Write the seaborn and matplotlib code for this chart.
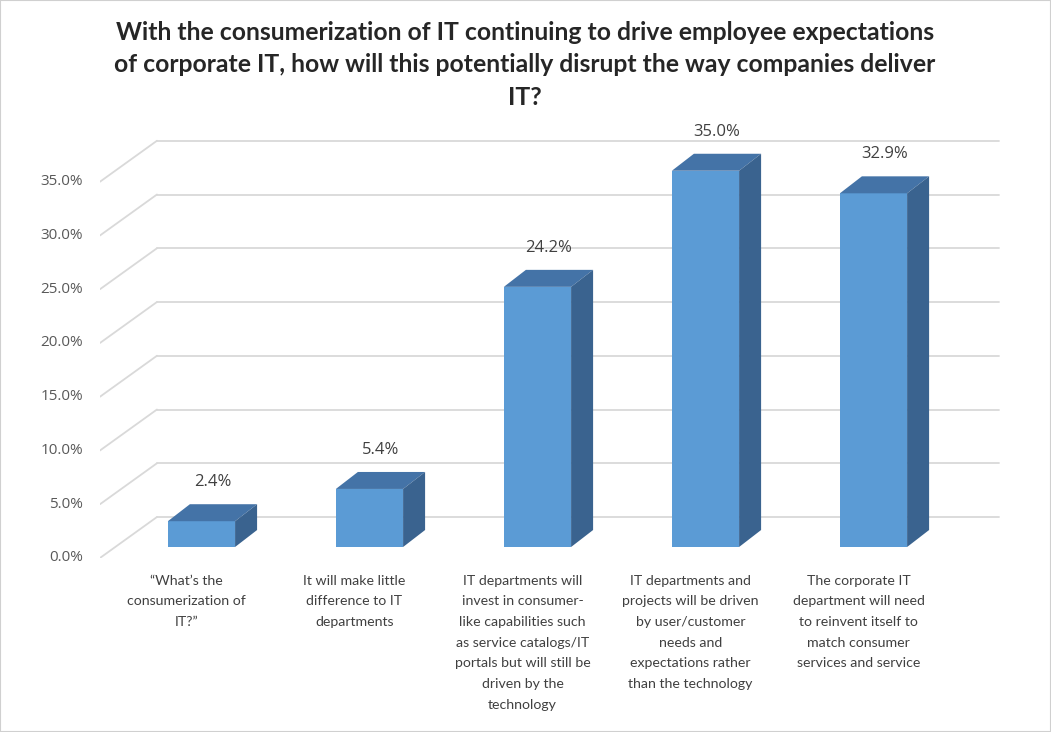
import matplotlib
matplotlib.use('Agg')
import matplotlib.pyplot as plt
from matplotlib.patches import Polygon, Rectangle
import seaborn as sns

# --- DATA ---
TITLE = ("With the consumerization of IT continuing to drive employee expectations\n"
         "of corporate IT, how will this potentially disrupt the way companies deliver\n"
         "IT?")
categories = [
    "\u201cWhat\u2019s the\nconsumerization of\nIT?\u201d",
    "It will make little\ndifference to IT\ndepartments",
    "IT departments will\ninvest in consumer-\nlike capabilities such\nas service catalogs/IT\n"
    "portals but will still be\ndriven by the\ntechnology",
    "IT departments and\nprojects will be driven\nby user/customer\nneeds and\n"
    "expectations rather\nthan the technology",
    "The corporate IT\ndepartment will need\nto reinvent itself to\nmatch consumer\nservices and service",
]
values = [2.4, 5.4, 24.2, 35.0, 32.9]
y_ticks = [0, 5, 10, 15, 20, 25, 30, 35]

# --- STYLE / FAKE 3D GEOMETRY ---
FRONT = '#5b9bd5'
TOP = '#4473a7'
SIDE = '#3a638f'
GRID = '#d9d9d9'
BAR_DX, BAR_DY = 0.131, 1.58        # bar depth
FRONT_DX, FRONT_DY = -0.089, -1.02  # front plane vs bar base
BACK_DX, BACK_DY = 0.25, 2.79       # back wall vs bar base
X_LEFT, X_RIGHT = -0.604, 4.753
Y_LOW, Y_HIGH = -1.023, 38.79
GRID_END = 4.747

sns.set_theme(style='white')
plt.rcParams['font.family'] = ['Lato', 'DejaVu Sans']

fig = plt.figure(figsize=(10.51, 7.32), dpi=100)
ax = fig.add_axes([100 / 1051, (732 - 558) / 732, 900 / 1051, (558 - 130) / 732])

sns.barplot(x=categories, y=values, color=FRONT, saturation=1, width=0.4,
            ax=ax, zorder=3, linewidth=0)
ax.set_xlim(X_LEFT, X_RIGHT)
ax.set_ylim(Y_LOW, Y_HIGH)
ax.axis('off')

# back wall gridlines + floor diagonals
back_left = X_LEFT - FRONT_DX + BACK_DX
for t in y_ticks:
    ax.plot([X_LEFT, back_left], [t + FRONT_DY, t + BACK_DY], color=GRID, lw=1.3, zorder=1)
    ax.plot([back_left, GRID_END], [t + BACK_DY, t + BACK_DY], color=GRID, lw=1.3, zorder=1)
    ax.text(X_LEFT - 0.1, t + FRONT_DY, f'{t:.1f}%', ha='right', va='center',
            fontsize=11, color='#595959', family=['Open Sans', 'DejaVu Sans'])

# top and side faces of each bar
for p, v in zip(ax.patches, values):
    x0, w, h = p.get_x(), p.get_width(), p.get_height()
    top = [(x0, h), (x0 + w, h), (x0 + w + BAR_DX, h + BAR_DY), (x0 + BAR_DX, h + BAR_DY)]
    side = [(x0 + w, 0), (x0 + w + BAR_DX, BAR_DY), (x0 + w + BAR_DX, h + BAR_DY), (x0 + w, h)]
    ax.add_patch(Polygon(top, closed=True, facecolor=TOP, edgecolor='none', zorder=3))
    ax.add_patch(Polygon(side, closed=True, facecolor=SIDE, edgecolor='none', zorder=3))
    ax.text(x0 + w / 2 + BAR_DX / 2, v + BAR_DY + 2.05, f'{v:.1f}%', ha='center', va='center',
            fontsize=12, color='#404040', family=['Open Sans', 'DejaVu Sans'])

# category labels under the front plane
for i, lab in enumerate(categories):
    ax.text(i + FRONT_DX, Y_LOW - 1.55, lab, ha='center', va='top', fontsize=10.2,
            color='#404040', linespacing=1.87, clip_on=False)

fig.text(0.4995, 1 - 21 / 732, TITLE, ha='center', va='top', fontsize=17.8,
         fontweight='bold', color='#262626', linespacing=1.5)

fig.patches.append(Rectangle((0, 0), 1, 1, transform=fig.transFigure, fill=False,
                             edgecolor='#d0d0d0', lw=1.5))

fig.savefig('out.png', dpi=100)
